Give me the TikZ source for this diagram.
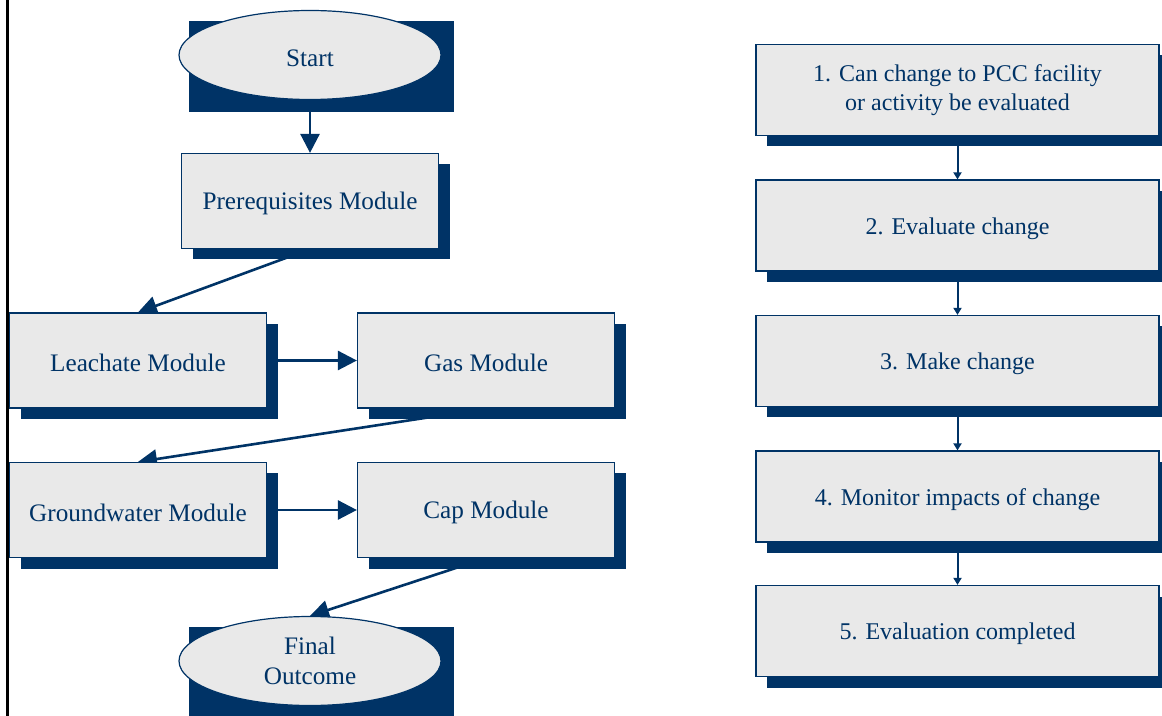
\documentclass[tikz,border=0pt]{standalone}
\usepackage{fontspec}
\setmainfont{Liberation Serif}
\usetikzlibrary{shapes.geometric,shadows,arrows.meta,calc}
\pgfdeclarelayer{background}
\pgfsetlayers{background,main}
\definecolor{pccnavy}{RGB}{0,51,102}
\definecolor{pccgrey}{RGB}{233,233,233}
\tikzset{
	module/.style={draw=pccnavy, line width=0.6pt, fill=pccgrey, text=pccnavy,
		align=center, inner sep=0pt, text height=11.5pt,
		minimum width=128.5pt, minimum height=47.5pt,
		font=\fontsize{12.6}{14.6}\selectfont,
		general shadow={fill=pccnavy, shadow xshift=5.5pt, shadow yshift=-5.5pt}},
	stepbox/.style={module, minimum width=201.5pt, minimum height=45.5pt,
		font=\fontsize{12}{14.4}\selectfont},
	terminal/.style={ellipse, draw=pccnavy, line width=0.6pt, fill=pccgrey, text=pccnavy,
		align=center, inner sep=0pt, text height=11.5pt,
		minimum width=131pt, minimum height=44.5pt,
		font=\fontsize{12.6}{15}\selectfont},
	twolines/.style={text height={}},
	flow/.style={pccnavy, line width=1.3pt, -{Triangle[length=9.5pt,width=9.5pt]}},
	stepflow/.style={pccnavy, line width=1pt, -{Triangle[length=3.5pt,width=4pt]}}
}

\begin{document}
\begin{tikzpicture}[x=0.5pt,y=-0.5pt]
\useasboundingbox (0,0) rectangle (1162,716);

\draw[line width=1.5pt] (7.5,0) -- (7.5,716);

\node[terminal] (start) at (310,55) {Start};
\node[module] (prereq) at (310,201) {Prerequisites Module};
\node[module] (leachate) at (138,360.5) {Leachate Module};
\node[module] (gas) at (486,360.5) {Gas Module};
\node[module] (groundwater) at (138,510) {Groundwater Module};
\node[module] (cap) at (486,510) {Cap Module};
\node[terminal, twolines] (final) at (310,661) {Final\\Outcome};

\node[stepbox, twolines] (canevaluate) at (957.5,90) {1. Can change to PCC facility\\or activity be evaluated};
\node[stepbox] (evaluate) at (957.5,225.5) {2. Evaluate change};
\node[stepbox] (make) at (957.5,361) {3. Make change};
\node[stepbox] (monitor) at (957.5,496.5) {4. Monitor impacts of change};
\node[stepbox] (completed) at (957.5,631) {5. Evaluation completed};

\begin{pgfonlayer}{background}
\draw[flow] (start.south) -- (prereq.north);
\draw[flow] (prereq.south) -- (leachate.north);
\draw[flow] (leachate.east) -- (gas.west);
\draw[flow] (gas.south) -- (groundwater.north);
\draw[flow] (groundwater.east) -- (cap.west);
\draw[flow] (cap.south) -- (final.north);

\draw[stepflow] (canevaluate.south) -- (evaluate.north);
\draw[stepflow] (evaluate.south) -- (make.north);
\draw[stepflow] (make.south) -- (monitor.north);
\draw[stepflow] (monitor.south) -- (completed.north);

\fill[pccnavy] ($(start.west |- start.north)+(11,11)$) rectangle ($(start.east |- start.south)+(12,12)$);
\fill[pccnavy] ($(final.west |- final.north)+(11,11)$) rectangle ($(final.east |- final.south)+(12,12)$);
\end{pgfonlayer}

\end{tikzpicture}
\end{document}
